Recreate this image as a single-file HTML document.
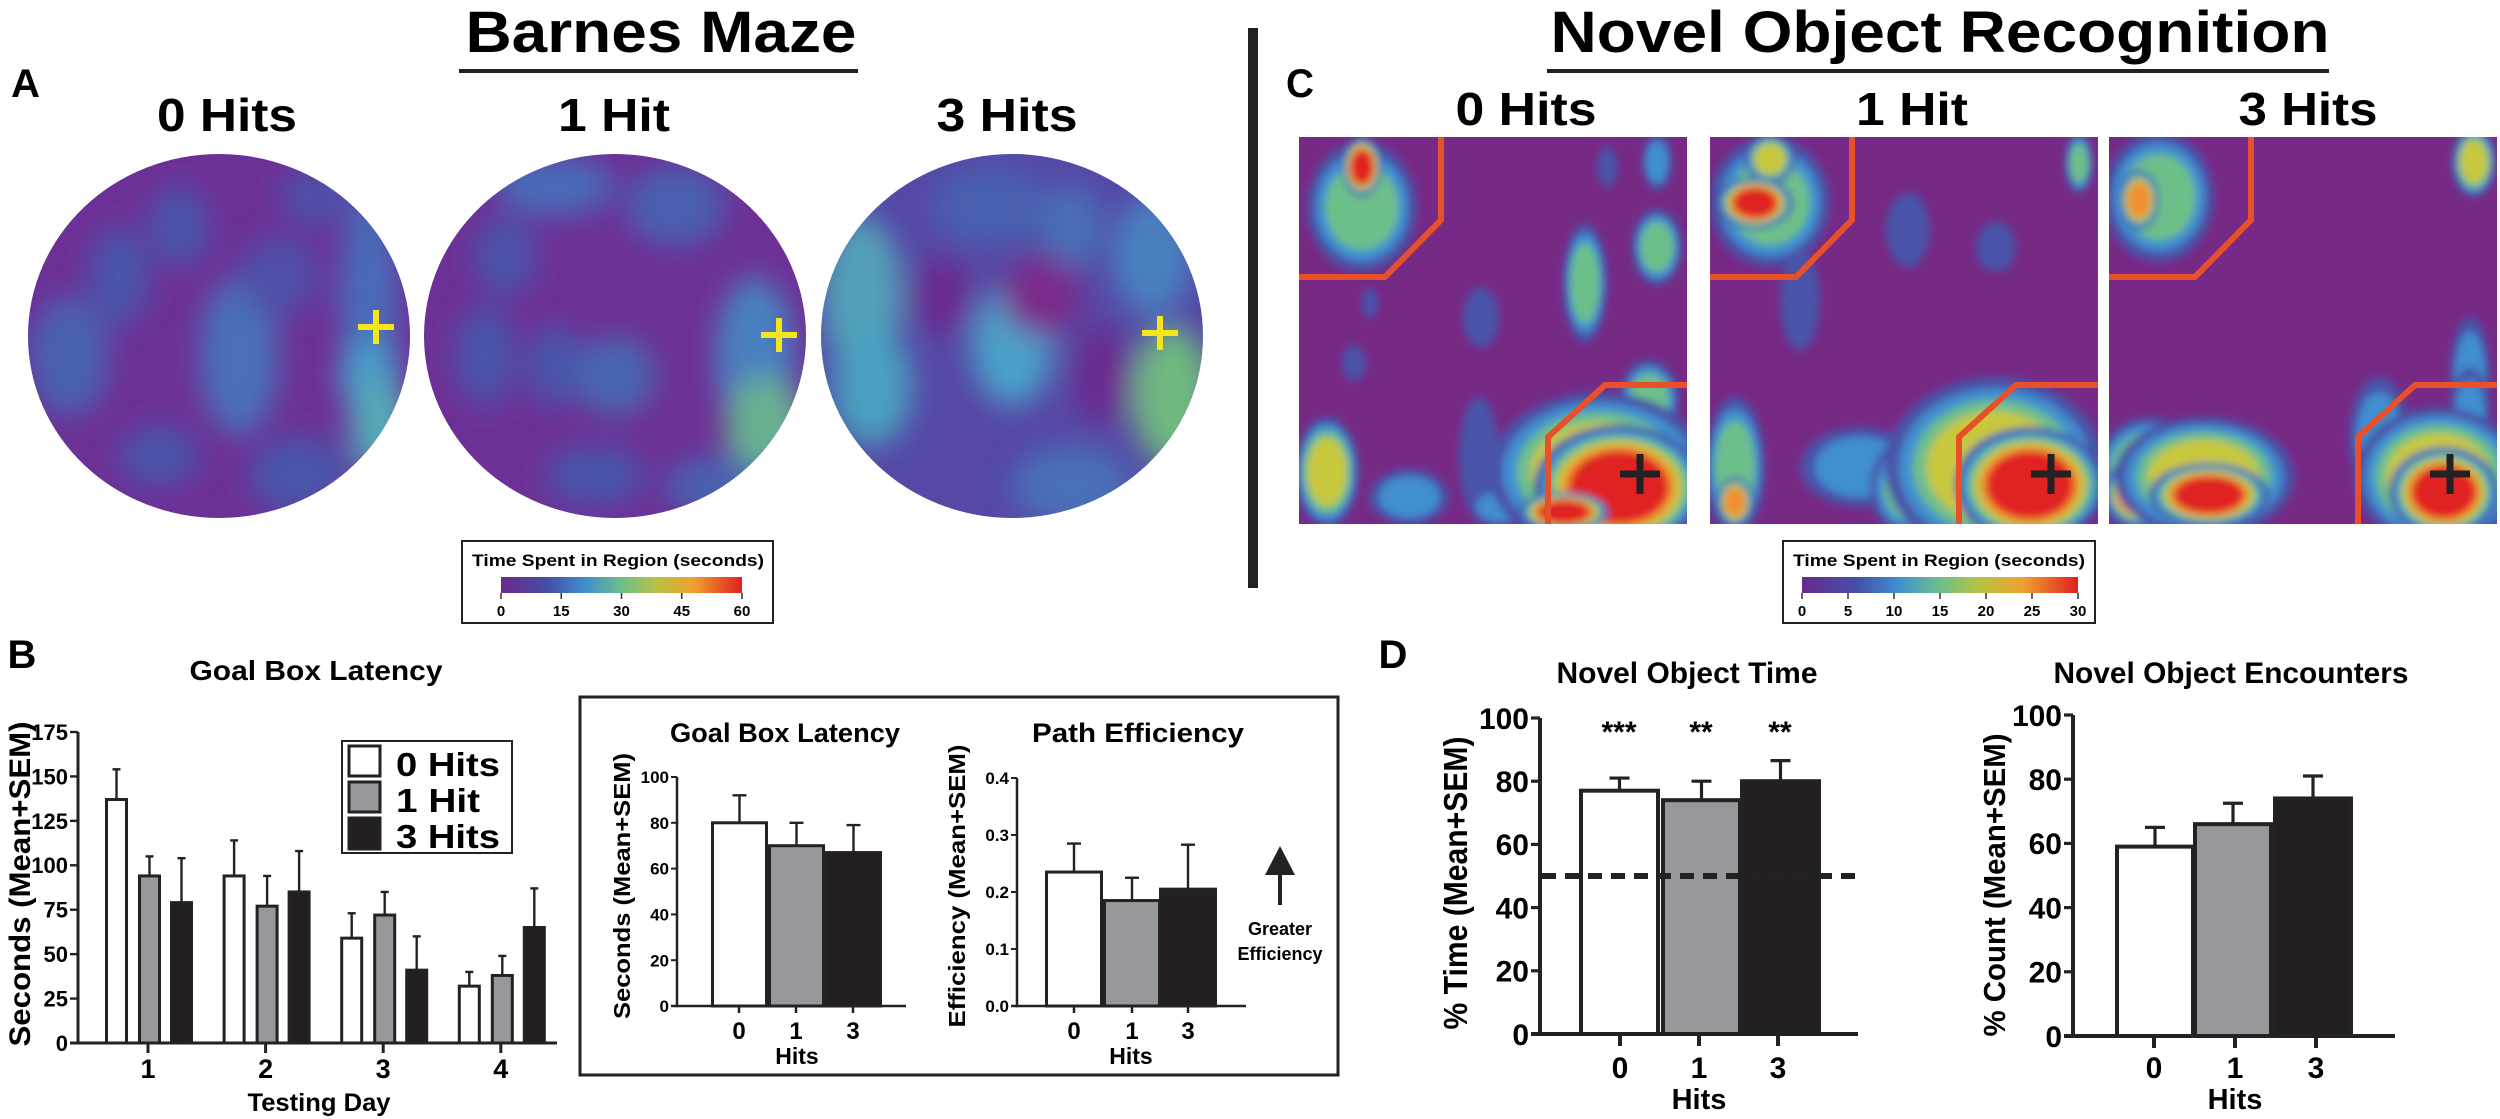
<!DOCTYPE html>
<html><head><meta charset="utf-8"><style>
html,body{margin:0;padding:0;background:#fff;}
svg{display:block;font-family:"Liberation Sans",Arial,sans-serif;font-weight:bold;}
</style></head><body>
<svg id="fig" width="2500" height="1119" viewBox="0 0 2500 1119" xmlns="http://www.w3.org/2000/svg">
<defs>
<filter id="blurA" x="-50%" y="-50%" width="200%" height="200%"><feGaussianBlur stdDeviation="14"/></filter>
<filter id="blurC" x="-50%" y="-50%" width="200%" height="200%"><feGaussianBlur stdDeviation="4"/></filter>
<linearGradient id="cmap" x1="0" x2="1" y1="0" y2="0">
<stop offset="0" stop-color="#6a2a8e"/><stop offset="0.2" stop-color="#4450a8"/><stop offset="0.35" stop-color="#3f8fd0"/><stop offset="0.5" stop-color="#6dbf8a"/><stop offset="0.65" stop-color="#b8c340"/><stop offset="0.8" stop-color="#f0a030"/><stop offset="1" stop-color="#e02020"/>
</linearGradient>
<clipPath id="cA1"><ellipse cx="219" cy="336" rx="191" ry="182"/></clipPath>
<clipPath id="cA2"><ellipse cx="615" cy="336" rx="191" ry="182"/></clipPath>
<clipPath id="cA3"><ellipse cx="1012" cy="336" rx="191" ry="182"/></clipPath>
<clipPath id="cC1"><rect x="1299" y="137" width="388" height="387"/></clipPath>
<clipPath id="cC2"><rect x="1710" y="137" width="388" height="387"/></clipPath>
<clipPath id="cC3"><rect x="2109" y="137" width="388" height="387"/></clipPath>
</defs>

<text x="661" y="52" font-size="58" text-anchor="middle" textLength="391" lengthAdjust="spacingAndGlyphs">Barnes Maze</text>
<rect x="459" y="69" width="399" height="4" fill="#222"/>
<text x="1940" y="52" font-size="58" text-anchor="middle" textLength="779" lengthAdjust="spacingAndGlyphs">Novel Object Recognition</text>
<rect x="1547" y="69" width="782" height="4" fill="#222"/>
<rect x="1248" y="28" width="10" height="560" fill="#222"/>
<text x="11" y="97" font-size="40" textLength="29" lengthAdjust="spacingAndGlyphs">A</text>
<text x="1286" y="97" font-size="40" textLength="28" lengthAdjust="spacingAndGlyphs">C</text>
<text x="22" y="668" font-size="40" text-anchor="middle">B</text>
<text x="1393" y="668" font-size="40" text-anchor="middle">D</text>

<text x="227" y="131" font-size="46" text-anchor="middle" textLength="140" lengthAdjust="spacingAndGlyphs">0 Hits</text>
<text x="614" y="131" font-size="46" text-anchor="middle" textLength="112" lengthAdjust="spacingAndGlyphs">1 Hit</text>
<text x="1007" y="131" font-size="46" text-anchor="middle" textLength="141" lengthAdjust="spacingAndGlyphs">3 Hits</text>
<text x="1526" y="125" font-size="46" text-anchor="middle" textLength="141" lengthAdjust="spacingAndGlyphs">0 Hits</text>
<text x="1912" y="125" font-size="46" text-anchor="middle" textLength="112" lengthAdjust="spacingAndGlyphs">1 Hit</text>
<text x="2308" y="125" font-size="46" text-anchor="middle" textLength="139" lengthAdjust="spacingAndGlyphs">3 Hits</text>

<g id="mazeA"></g>
<g id="norC"></g>

<g>
<rect x="462" y="541" width="311" height="82" fill="#fff" stroke="#222" stroke-width="2"/>
<text x="618" y="566" font-size="17" text-anchor="middle" textLength="292" lengthAdjust="spacingAndGlyphs">Time Spent in Region (seconds)</text>
<rect x="501" y="577" width="241" height="16" fill="url(#cmap)"/>
<g id="cbA"></g>
</g>
<g>
<rect x="1783" y="541" width="312" height="82" fill="#fff" stroke="#222" stroke-width="2"/>
<text x="1939" y="566" font-size="17" text-anchor="middle" textLength="292" lengthAdjust="spacingAndGlyphs">Time Spent in Region (seconds)</text>
<rect x="1802" y="577" width="276" height="16" fill="url(#cmap)"/>
<g id="cbC"></g>
</g>

<text x="316" y="680" font-size="28" text-anchor="middle" textLength="253" lengthAdjust="spacingAndGlyphs">Goal Box Latency</text>
<text transform="translate(30,884) rotate(-90)" font-size="30" text-anchor="middle" textLength="325" lengthAdjust="spacingAndGlyphs">Seconds (Mean+SEM)</text>
<text x="319" y="1111" font-size="25" text-anchor="middle" textLength="143" lengthAdjust="spacingAndGlyphs">Testing Day</text>
<g id="chartB"></g>
<g>
<rect x="342" y="741" width="170" height="112" fill="#fff" stroke="#222" stroke-width="2"/>
<rect x="349" y="746" width="31" height="30" fill="#fff" stroke="#222" stroke-width="3"/>
<rect x="349" y="782" width="31" height="30" fill="#97989b" stroke="#222" stroke-width="3"/>
<rect x="349" y="818" width="31" height="31" fill="#231f20" stroke="#222" stroke-width="3"/>
<text x="396" y="776" font-size="33" textLength="104" lengthAdjust="spacingAndGlyphs">0 Hits</text>
<text x="396" y="812" font-size="33" textLength="84" lengthAdjust="spacingAndGlyphs">1 Hit</text>
<text x="396" y="848" font-size="33" textLength="104" lengthAdjust="spacingAndGlyphs">3 Hits</text>
</g>

<rect x="580" y="697" width="758" height="378" fill="none" stroke="#222" stroke-width="3"/>
<text x="785" y="742" font-size="27" text-anchor="middle" textLength="230" lengthAdjust="spacingAndGlyphs">Goal Box Latency</text>
<text x="1138" y="742" font-size="27" text-anchor="middle" textLength="212" lengthAdjust="spacingAndGlyphs">Path Efficiency</text>
<text transform="translate(630,886) rotate(-90)" font-size="23" text-anchor="middle" textLength="266" lengthAdjust="spacingAndGlyphs">Seconds (Mean+SEM)</text>
<text transform="translate(965,886) rotate(-90)" font-size="23" text-anchor="middle" textLength="283" lengthAdjust="spacingAndGlyphs">Efficiency (Mean+SEM)</text>
<text x="797" y="1064" font-size="23" text-anchor="middle">Hits</text>
<text x="1131" y="1064" font-size="23" text-anchor="middle">Hits</text>
<g id="chartGBL"></g>
<g id="chartPE"></g>
<g>
<polygon points="1280,846 1265,875 1295,875" fill="#222"/>
<rect x="1278" y="873" width="4" height="32" fill="#222"/>
<text x="1280" y="935" font-size="18" text-anchor="middle">Greater</text>
<text x="1280" y="960" font-size="18" text-anchor="middle">Efficiency</text>
</g>

<text x="1687" y="683" font-size="30" text-anchor="middle" textLength="261" lengthAdjust="spacingAndGlyphs">Novel Object Time</text>
<text transform="translate(1467,883) rotate(-90)" font-size="33" text-anchor="middle" textLength="293" lengthAdjust="spacingAndGlyphs">% Time (Mean+SEM)</text>
<text x="1699" y="1109" font-size="29" text-anchor="middle">Hits</text>
<g id="chartT"></g>
<text x="2231" y="683" font-size="30" text-anchor="middle" textLength="355" lengthAdjust="spacingAndGlyphs">Novel Object Encounters</text>
<text transform="translate(2005,885) rotate(-90)" font-size="31" text-anchor="middle" textLength="303" lengthAdjust="spacingAndGlyphs">% Count (Mean+SEM)</text>
<text x="2235" y="1109" font-size="29" text-anchor="middle">Hits</text>
<g id="chartE"></g>
</svg>

<script>
const dayLabels = ["1","2","3","4"];
const latency0 = [137, 94, 59, 32];
const latency0Err = [17, 20, 14, 8];
const latency1 = [94, 77, 72, 38];
const latency1Err = [11, 17, 13, 11];
const latency3 = [79, 85, 41, 65];
const latency3Err = [25, 23, 19, 22];
const latencyTicks = [0,25,50,75,100,125,150,175];

const hitLabels = ["0","1","3"];
const insetLatency = [80, 70, 67];
const insetLatencyErr = [12, 10, 12];
const insetLatencyTicks = [0,20,40,60,80,100];
const efficiency = [0.235, 0.185, 0.205];
const efficiencyErr = [0.05, 0.04, 0.078];
const efficiencyTicks = [0.0,0.1,0.2,0.3,0.4];

const timePct = [77, 74, 80];
const timePctErr = [4, 6, 6.5];
const timeStars = ["***","**","**"];
const chanceLevel = [50];
const countPct = [59, 66, 74];
const countPctErr = [6, 6.5, 7];
const pctTicks = [0,20,40,60,80,100];

const cbATicks = [0,15,30,45,60];
const cbCTicks = [0,5,10,15,20,25,30];

const barFills = ["#ffffff","#97989b","#231f20"];
const NS = "http://www.w3.org/2000/svg";
function mk(tag, attrs, parent){
  const e = document.createElementNS(NS, tag);
  for (const k in attrs) e.setAttribute(k, attrs[k]);
  parent.appendChild(e);
  return e;
}

function drawAxes(g, x0, x1, yScale, ticks, fmt, fs, tickLen, lw){
  const ax = mk("line",{x1:x0,x2:x0,y1:yScale(ticks[0])+lw/2,y2:yScale(ticks[ticks.length-1]),stroke:"#222","stroke-width":lw},g);
  
  
  const bx = mk("line",{x1:x0-tickLen,x2:x1,y1:yScale(ticks[0]),y2:yScale(ticks[0]),stroke:"#222","stroke-width":lw},g);
  
  
  ticks.forEach(t=>{
    const y = yScale(t);
    const tk = mk("line",{x1:x0-tickLen,x2:x0,y1:y,y2:y,stroke:"#222","stroke-width":lw*0.8},g);
    
    
    const lb = mk("text",{x:x0-tickLen-2,y:y+fs*0.36,"font-size":fs,"text-anchor":"end"},g);
    lb.textContent = fmt(t);
    
    
  });
}
function drawBar(g, x, w, yScale, v, err, fill, lw, capW, name){
  const y = yScale(v), base = yScale(0);
  const eTop = yScale(v+err);
  const el = mk("line",{x1:x+w/2,x2:x+w/2,y1:y,y2:eTop,stroke:"#222","stroke-width":lw*0.8},g);
  
  
  const cap = mk("line",{x1:x+w/2-capW/2,x2:x+w/2+capW/2,y1:eTop,y2:eTop,stroke:"#222","stroke-width":lw*0.8},g);
  
  
  const r = mk("rect",{x:x+lw/2,y:y,width:w-lw,height:base-y,fill:fill,stroke:"#222","stroke-width":lw},g);
  
  
}
function xLabels(g, xs, labels, yAxis, y, fs, tickLen, lw){
  xs.forEach((x,i)=>{
    const t = mk("line",{x1:x,x2:x,y1:yAxis,y2:yAxis+tickLen,stroke:"#222","stroke-width":lw},g);
    
    
    const l = mk("text",{x:x,y:y,"font-size":fs,"text-anchor":"middle"},g);
    l.textContent = labels[i];
    
    
  });
}

(function(){
  const g = document.getElementById("chartB");
  
  
  const yS = v => 1043 - v/175*311;
  const dayX = i => 148 + i*117.6;
  drawAxes(g, 78, 557, yS, latencyTicks, t=>String(t), 22, 8, 3);
  const series = [latency0, latency1, latency3], errs=[latency0Err, latency1Err, latency3Err];
  const offs = [-43, -10, 22];
  dayLabels.forEach((d,i)=>{
    series.forEach((s,j)=>{
      drawBar(g, dayX(i)+offs[j], 23, yS, s[i], errs[j][i], barFills[j], 3, 8, 'bar-day'+d+'-series'+j);
    });
  });
  xLabels(g, dayLabels.map((d,i)=>dayX(i)), dayLabels, 1043, 1078, 27, 10, 3);
})();

(function(){
  const g = document.getElementById("chartGBL");
  
  
  const yS = v => 1006 - v/100*229;
  drawAxes(g, 677, 906, yS, insetLatencyTicks, t=>String(t), 17, 6, 2.5);
  const xs = [711, 768, 825];
  insetLatency.forEach((v,i)=> drawBar(g, xs[i], 57, yS, v, insetLatencyErr[i], barFills[i], 3, 14, 'inset-latency-bar-'+hitLabels[i]));
  xLabels(g, xs.map(x=>x+28), hitLabels, 1006, 1039, 24, 7, 2.5);
})();

(function(){
  const g = document.getElementById("chartPE");
  
  
  const yS = v => 1006 - v/0.4*228;
  drawAxes(g, 1017, 1246, yS, efficiencyTicks, t=>t.toFixed(1), 17, 6, 2.5);
  const xs = [1045, 1103, 1159];
  efficiency.forEach((v,i)=> drawBar(g, xs[i], 58, yS, v, efficiencyErr[i], barFills[i], 3, 14, 'efficiency-bar-'+hitLabels[i]));
  xLabels(g, xs.map(x=>x+29), hitLabels, 1006, 1039, 24, 7, 2.5);
})();

(function(){
  const g = document.getElementById("chartT");
  
  
  const yS = v => 1034 - v/100*316;
  drawAxes(g, 1540, 1858, yS, pctTicks, t=>String(t), 30, 9, 4);
  const xs = [1579, 1661, 1740];
  timePct.forEach((v,i)=> drawBar(g, xs[i], 81, yS, v, timePctErr[i], barFills[i], 4, 20, 'time-bar-'+hitLabels[i]));
  const dl = mk("line",{x1:1542,x2:1858,y1:yS(chanceLevel[0]),y2:yS(chanceLevel[0]),stroke:"#222","stroke-width":6,"stroke-dasharray":"14 9"},g);
  
  
  xs.forEach((x,i)=>{
    const s = mk("text",{x:x+40,y:742,"font-size":30,"text-anchor":"middle"},g);
    s.textContent = timeStars[i];
    
    
  });
  xLabels(g, [1620,1699,1778], hitLabels, 1034, 1078, 30, 12, 4);
})();

(function(){
  const g = document.getElementById("chartE");
  
  
  const yS = v => 1036 - v/100*321;
  drawAxes(g, 2073, 2395, yS, pctTicks, t=>String(t), 30, 9, 4);
  const xs = [2115, 2193, 2273];
  countPct.forEach((v,i)=> drawBar(g, xs[i], 80, yS, v, countPctErr[i], barFills[i], 4, 20, 'count-bar-'+hitLabels[i]));
  xLabels(g, [2154,2235,2316], hitLabels, 1036, 1078, 30, 12, 4);
})();

function cbTicks(id, x0, x1, ticks){
  const g = document.getElementById(id);
  const max = ticks[ticks.length-1];
  ticks.forEach(t=>{
    const x = x0 + (x1-x0)*t/max;
    mk("line",{x1:x,x2:x,y1:593,y2:599,stroke:"#333","stroke-width":1.5},g);
    const l = mk("text",{x:x,y:616,"font-size":15,"text-anchor":"middle"},g);
    l.textContent = t;
  });
}
cbTicks("cbA", 501, 742, cbATicks);
cbTicks("cbC", 1802, 2078, cbCTicks);

(function(){
  const g = document.getElementById("mazeA");
  
  
  const circles = [
    {cx:219, base:"#6d3096", blobs:[[150,-40,30,100,"#4a6ab8"],[150,40,30,40,"#4a9ac8"],[160,90,30,50,"#55a8b8"],[-100,-60,30,50,"#4a55aa"],[-40,-110,30,40,"#4a55aa"],[-150,20,40,60,"#4a62b0"],[20,20,40,80,"#4a70b8"],[-60,120,40,30,"#4a55aa"],[80,140,50,40,"#4a55aa"],[60,-60,40,40,"#5050a8"],[100,-140,40,30,"#5050a8"]]},
    {cx:615, base:"#6d3096", blobs:[[-60,-150,60,30,"#4a6ab8"],[60,-130,50,40,"#4a60b0"],[140,20,40,80,"#4a80c0"],[150,90,40,50,"#68b090"],[-130,20,30,50,"#4a55aa"],[-60,30,30,40,"#4a55aa"],[0,40,40,40,"#4a66b0"],[-20,140,50,30,"#4a55aa"],[100,150,50,30,"#4a60b0"],[-110,-80,30,40,"#4a55aa"]]},
    {cx:1012, base:"#5548a6", blobs:[[-150,-40,40,80,"#52a0b8"],[-140,50,40,60,"#4aa0c0"],[0,10,40,60,"#4aa0c8"],[160,60,40,70,"#70b880"],[140,-80,40,60,"#4a80c0"],[-20,-130,60,40,"#4a60b0"],[60,-110,30,40,"#4a70b8"],[30,-40,40,40,"#7a2a8a"],[-70,-40,30,40,"#6a2a90"],[60,150,60,40,"#4a70b8"],[90,40,30,50,"#6a2a90"]]}
  ];
  circles.forEach((c,i)=>{
    const sg = mk("g",{"clip-path":"url(#cA"+(i+1)+")"},g);
    
    
    mk("rect",{x:c.cx-195,y:150,width:390,height:372,fill:c.base},sg);
    const bg = mk("g",{filter:"url(#blurA)"},sg);
    c.blobs.forEach(b=> mk("ellipse",{cx:c.cx+b[0],cy:336+b[1],rx:b[2],ry:b[3],fill:b[4]},bg));
    const crossX = [376,779,1160][i], crossY=[327,335,333][i];
    const cr = mk("path",{d:"M"+(crossX-18)+" "+crossY+"H"+(crossX+18)+"M"+crossX+" "+(crossY-17)+"V"+(crossY+17),stroke:"#f5e51b","stroke-width":6},g);
    
    
  });
})();

(function(){
  const g = document.getElementById("norC");
  
  
  const levels = ["#4a52a8","#3f8fd0","#6dbf8a","#c8c83c","#f09030","#e02020"];
  const panels = [
    {x:1299, spots:[[63,70,55,65,3],[63,30,20,30,6],[358,110,25,38,3],[286,146,22,60,3],[358,25,15,28,2],[308,30,10,20,1],[182,180,18,30,1],[55,226,12,18,1],[71,166,8,15,1],[28,335,32,55,4],[110,360,40,28,2],[180,320,20,60,1],[200,370,30,20,2],[350,263,30,40,3],[300,335,110,80,4],[320,350,85,62,6],[265,375,45,20,6]]},
    {x:1710, spots:[[60,65,60,65,3],[60,22,25,25,4],[45,66,38,26,6],[198,93,22,37,1],[369,26,14,30,3],[286,110,20,25,1],[90,163,20,50,1],[25,330,30,70,3],[25,365,18,25,5],[150,330,60,40,2],[200,350,40,50,3],[285,330,110,90,4],[320,348,75,58,6]]},
    {x:2109, spots:[[50,60,55,65,3],[30,63,20,30,5],[365,25,22,35,4],[361,240,20,60,2],[361,280,20,50,2],[40,340,55,60,4],[30,355,35,35,6],[95,340,90,60,4],[100,358,60,32,6],[270,300,30,60,2],[330,340,85,70,4],[335,355,55,45,6]]}
  ];
  panels.forEach((p,i)=>{
    const sg = mk("g",{"clip-path":"url(#cC"+(i+1)+")"},g);
    
    
    mk("rect",{x:p.x,y:137,width:388,height:387,fill:"#762a86"},sg);
    const bg = mk("g",{filter:"url(#blurC)"},sg);
    p.spots.forEach(s=>{
      for(let l=0;l<s[4];l++){
        const f = 1 - 0.5*l/s[4];
        mk("ellipse",{cx:p.x+s[0],cy:137+s[1],rx:s[2]*f,ry:s[3]*f,fill:levels[l]},bg);
      }
    });
    const ox=p.x, oy=137;
    const z1 = mk("polyline",{points:(ox+142)+","+oy+" "+(ox+142)+","+(oy+83)+" "+(ox+86)+","+(oy+140)+" "+ox+","+(oy+140),fill:"none",stroke:"#e8502a","stroke-width":6},sg);
    
    
    const z2 = mk("polyline",{points:(ox+388)+","+(oy+248)+" "+(ox+306)+","+(oy+248)+" "+(ox+249)+","+(oy+300)+" "+(ox+249)+","+(oy+390),fill:"none",stroke:"#e8502a","stroke-width":6},sg);
    
    
    const cr = mk("path",{d:"M"+(ox+321)+" "+(oy+337)+"H"+(ox+361)+"M"+(ox+341)+" "+(oy+317)+"V"+(oy+357),stroke:"#222","stroke-width":7},g);
    
    
  });
})();
</script>
</body></html>
